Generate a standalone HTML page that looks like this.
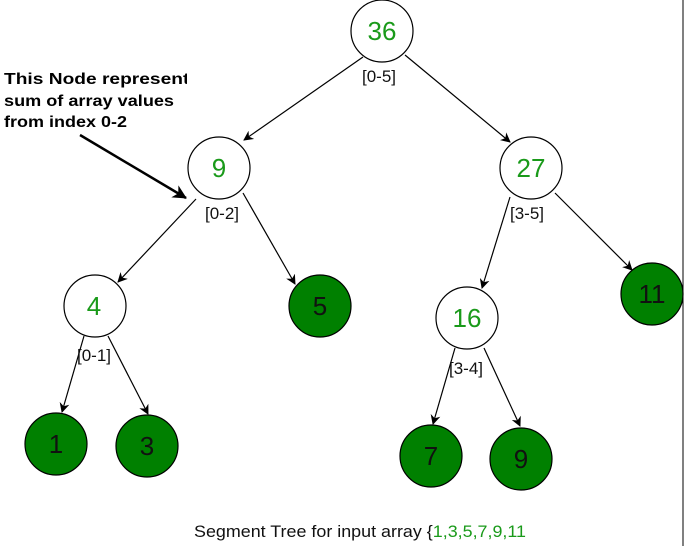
<!DOCTYPE html><html><head><style>body{margin:0;background:#fff}svg{display:block}</style></head><body>
<svg width="684" height="546" xmlns="http://www.w3.org/2000/svg" font-family="Liberation Sans, Arial, sans-serif">
<defs><marker id="a" markerWidth="10" markerHeight="10" refX="9" refY="5" orient="auto" markerUnits="userSpaceOnUse"><path d="M0,0 L10,5 L0,10 L3,5z" fill="#000"/></marker>
<marker id="b" markerWidth="14" markerHeight="14" refX="13" refY="7" orient="auto" markerUnits="userSpaceOnUse"><path d="M0,0 L14,7 L0,14 L4,7z" fill="#000"/></marker></defs>
<g stroke="#000" stroke-width="1.2" fill="none" marker-end="url(#a)">
<line x1="363" y1="57" x2="244" y2="140"/><line x1="405" y1="55" x2="510" y2="142"/>
<line x1="196" y1="199" x2="118" y2="282"/><line x1="243" y1="193" x2="295" y2="284"/>
<line x1="510" y1="197" x2="482" y2="288"/><line x1="555" y1="193" x2="632" y2="270"/>
<line x1="84" y1="336" x2="62" y2="412"/><line x1="108" y1="336" x2="148" y2="414"/>
<line x1="455" y1="348" x2="433" y2="424"/><line x1="484" y1="348" x2="520" y2="426"/>
</g>
<line x1="80" y1="135" x2="186" y2="198" stroke="#000" stroke-width="2.5" marker-end="url(#b)"/>
<g stroke="#000" stroke-width="1.2">
<circle cx="382" cy="31" r="31" fill="#fff"/><circle cx="219" cy="168" r="31" fill="#fff"/><circle cx="531" cy="168" r="31" fill="#fff"/>
<circle cx="95" cy="306" r="31" fill="#fff"/><circle cx="467" cy="318" r="31" fill="#fff"/>
<circle cx="320" cy="306" r="31" fill="#008000"/><circle cx="652" cy="294" r="31" fill="#008000"/>
<circle cx="56" cy="444" r="31" fill="#008000"/><circle cx="147" cy="446" r="31" fill="#008000"/>
<circle cx="431" cy="456" r="31" fill="#008000"/><circle cx="521" cy="459" r="31" fill="#008000"/>
</g>
<g font-size="26" text-anchor="middle" fill="#1a9a1a">
<text x="382" y="40">36</text><text x="219" y="177">9</text><text x="531" y="177">27</text><text x="94" y="315">4</text><text x="467" y="327">16</text>
</g>
<g font-size="26" text-anchor="middle" fill="#111">
<text x="320" y="315">5</text><text x="652" y="303">11</text><text x="56" y="453">1</text><text x="147" y="455">3</text><text x="431" y="465">7</text><text x="521" y="468">9</text>
</g>
<g font-size="17" fill="#111" text-anchor="middle">
<text x="379" y="82">[0-5]</text><text x="222" y="219">[0-2]</text><text x="527" y="219">[3-5]</text><text x="94" y="361">[0-1]</text><text x="466" y="374">[3-4]</text>
</g>
<g font-size="16" font-weight="bold" fill="#000">
<text x="4" y="84" textLength="196" lengthAdjust="spacingAndGlyphs">This Node represents</text><text x="4" y="106" textLength="170" lengthAdjust="spacingAndGlyphs">sum of array values</text><text x="4" y="127" textLength="123" lengthAdjust="spacingAndGlyphs">from index 0-2</text>
</g>
<rect x="187" y="68" width="14" height="22" fill="#fff"/>
<text x="194" y="537" font-size="17" fill="#111" textLength="332" lengthAdjust="spacingAndGlyphs">Segment Tree for input array {<tspan fill="#1a9a1a">1,3,5,7,9,11</tspan></text>
<line x1="683" y1="0" x2="683" y2="546" stroke="#000" stroke-width="1"/>
</svg></body></html>
